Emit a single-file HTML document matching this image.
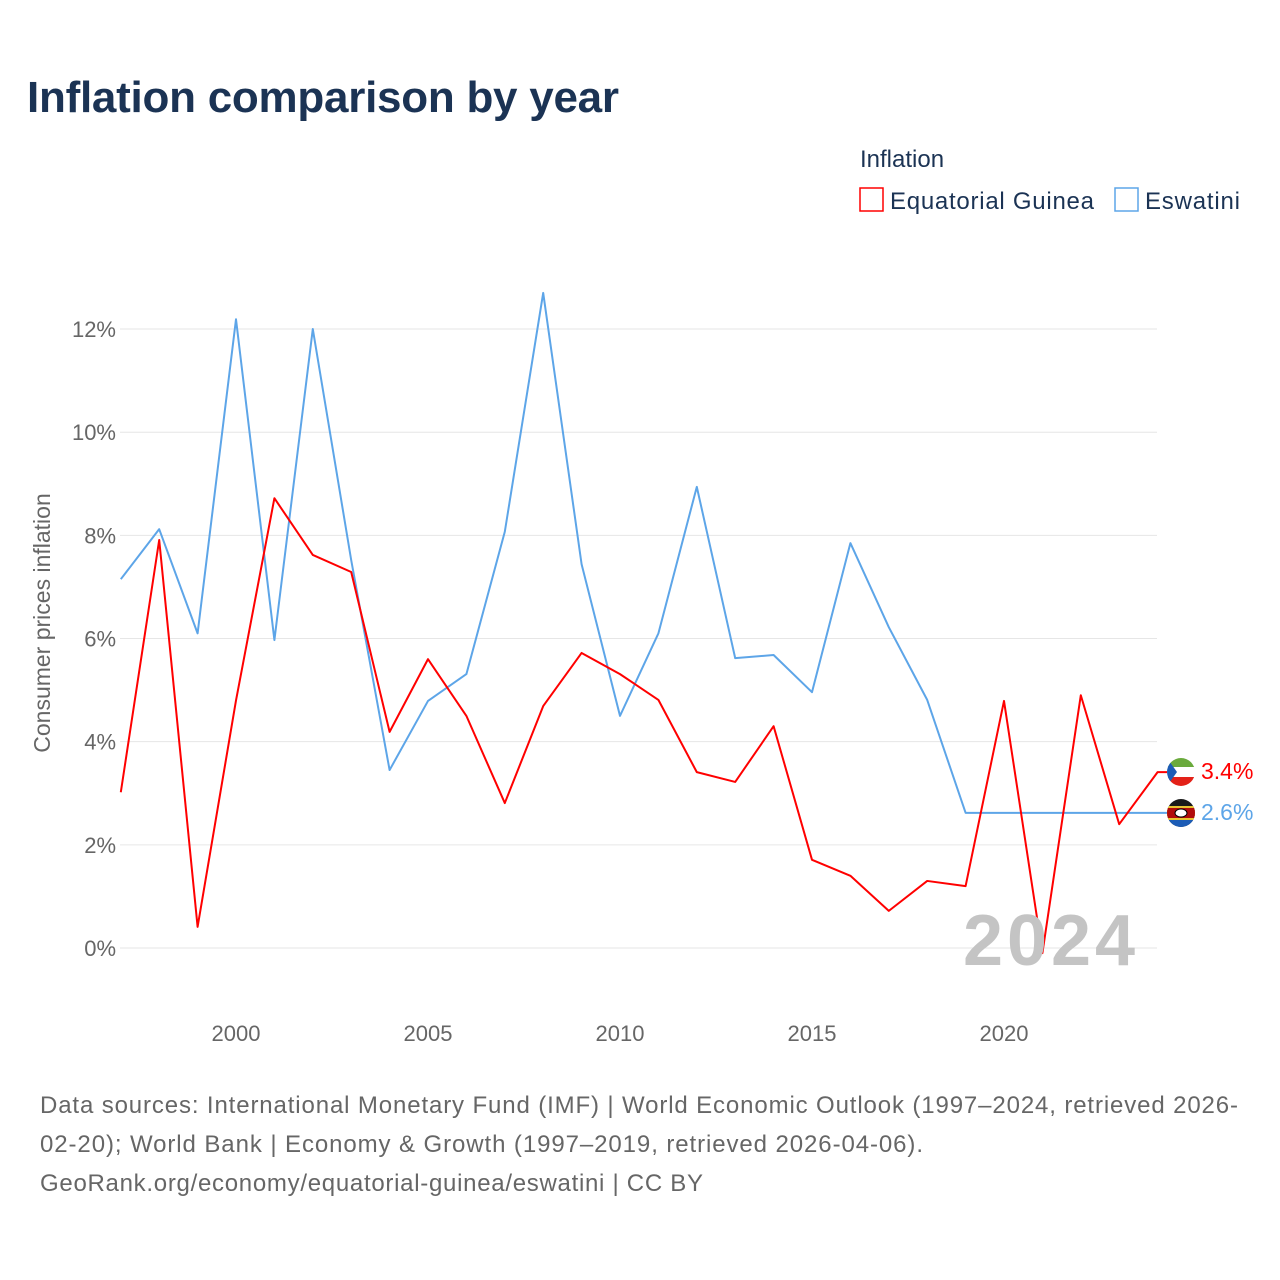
<!DOCTYPE html>
<html><head><meta charset="utf-8"><style>
body{margin:0;background:#fff;font-family:"Liberation Sans",sans-serif}
#wrap{position:relative;width:1280px;height:1280px;overflow:hidden}
</style></head><body>
<div id="wrap">
<svg id="chart" width="1280" height="1280" xmlns="http://www.w3.org/2000/svg">
<text x="27" y="112" font-size="44" font-weight="bold" fill="#1b3354" textLength="592" font-family="Liberation Sans,sans-serif">Inflation comparison by year</text>
<text x="860" y="167" font-size="24" fill="#1b3354">Inflation</text>
<g><rect x="860" y="188" width="23" height="23" fill="none" stroke="#ff0000" stroke-width="1.5"/><text x="890" y="209" font-size="24" fill="#1b3354" textLength="204">Equatorial Guinea</text></g>
<g><rect x="1115" y="188" width="23" height="23" fill="none" stroke="#5da5e8" stroke-width="1.5"/><text x="1145" y="209" font-size="24" fill="#1b3354" textLength="95">Eswatini</text></g>
<text transform="translate(50,623) rotate(-90)" text-anchor="middle" font-size="23" fill="#666">Consumer prices inflation</text>
<g id="grid"></g><g id="xt"></g><g id="series"></g>
<text x="1135" y="965" text-anchor="end" font-size="72" font-weight="bold" fill="#c4c4c4" textLength="172">2024</text>
<g>
<clipPath id="c1"><circle cx="1181" cy="772" r="14"/></clipPath>
<g clip-path="url(#c1)"><rect x="1167" y="758" width="28" height="9" fill="#6aaa3c"/><rect x="1167" y="767" width="28" height="10" fill="#fff"/><rect x="1167" y="777" width="28" height="9" fill="#e32118"/><polygon points="1167,758 1177,772 1167,786" fill="#1c5cb6"/></g></g>
<g>
<clipPath id="c2"><circle cx="1181" cy="813" r="14"/></clipPath>
<g clip-path="url(#c2)"><rect x="1167" y="799" width="28" height="28" fill="#1a1a1a"/><rect x="1167" y="806" width="28" height="14" fill="#e8c431"/><rect x="1167" y="808" width="28" height="10" fill="#b10c0c"/><rect x="1167" y="820" width="28" height="7" fill="#1c5cb6"/><ellipse cx="1181" cy="813" rx="6" ry="4" fill="#fff" stroke="#000"/></g></g>
<text x="1201" y="779" font-size="23" fill="#ff0000">3.4%</text>
<text x="1201" y="820" font-size="23" fill="#5da5e8">2.6%</text>
<text font-size="24" fill="#666"><tspan x="40" y="1113" textLength="1198">Data sources: International Monetary Fund (IMF) | World Economic Outlook (1997–2024, retrieved 2026-</tspan><tspan x="40" y="1152" textLength="883">02-20); World Bank | Economy &amp; Growth (1997–2019, retrieved 2026-04-06).</tspan><tspan x="40" y="1191" textLength="663">GeoRank.org/economy/equatorial-guinea/eswatini | CC BY</tspan></text>
</svg>
<script>
const years=[1997,1998,1999,2000,2001,2002,2003,2004,2005,2006,2007,2008,2009,2010,2011,2012,2013,2014,2015,2016,2017,2018,2019,2020,2021,2022,2023,2024];
const equatorialGuinea=[3.02,7.91,0.41,4.8,8.72,7.62,7.29,4.19,5.6,4.5,2.81,4.69,5.72,5.31,4.81,3.41,3.22,4.3,1.71,1.4,0.72,1.3,1.2,4.79,-0.1,4.9,2.4,3.41];
const eswatini=[7.15,8.12,6.1,12.19,5.97,12.0,7.52,3.45,4.79,5.31,8.07,12.7,7.44,4.5,6.1,8.94,5.62,5.68,4.96,7.85,6.22,4.81,2.62,2.62,2.62,2.62,2.62,2.62];
const yTicks=[0,2,4,6,8,10,12];
const xTicks=[2000,2005,2010,2015,2020];
const NS="http://www.w3.org/2000/svg";
const X=y=>120.8+(y-1997)*38.4;
const Y=v=>948-v*51.58;
const grid=document.getElementById('grid');
yTicks.forEach(t=>{
 const l=document.createElementNS(NS,'line');
 l.setAttribute('x1',120);l.setAttribute('x2',1157);l.setAttribute('y1',Y(t));l.setAttribute('y2',Y(t));
 l.setAttribute('stroke','#e6e6e6');l.setAttribute('stroke-width',1);
 
 
 grid.appendChild(l);
 const tx=document.createElementNS(NS,'text');
 tx.setAttribute('x',116);tx.setAttribute('y',Y(t)+8);tx.setAttribute('text-anchor','end');
 tx.setAttribute('font-size',22);tx.setAttribute('fill','#666');tx.textContent=t+'%';
 
 
 grid.appendChild(tx);
});
const xt=document.getElementById('xt');
xTicks.forEach(t=>{
 const tx=document.createElementNS(NS,'text');
 tx.setAttribute('x',X(t));tx.setAttribute('y',1041);tx.setAttribute('text-anchor','middle');
 tx.setAttribute('font-size',22);tx.setAttribute('fill','#666');tx.textContent=t;
 
 
 xt.appendChild(tx);
});
const ser=document.getElementById('series');
function draw(vals,color,name){
 const pts=vals.map((v,i)=>X(years[i])+','+Y(v));
 const last=vals[vals.length-1];
 pts.push('1167,'+Y(last));
 const p=document.createElementNS(NS,'polyline');
 p.setAttribute('points',pts.join(' '));
 p.setAttribute('fill','none');p.setAttribute('stroke',color);p.setAttribute('stroke-width',2);
 p.setAttribute('stroke-linejoin','round');
 
 
 ser.appendChild(p);
}
draw(eswatini,'#5da5e8','line-eswatini');
draw(equatorialGuinea,'#ff0000','line-equatorial-guinea');
</script>
</div></body></html>
